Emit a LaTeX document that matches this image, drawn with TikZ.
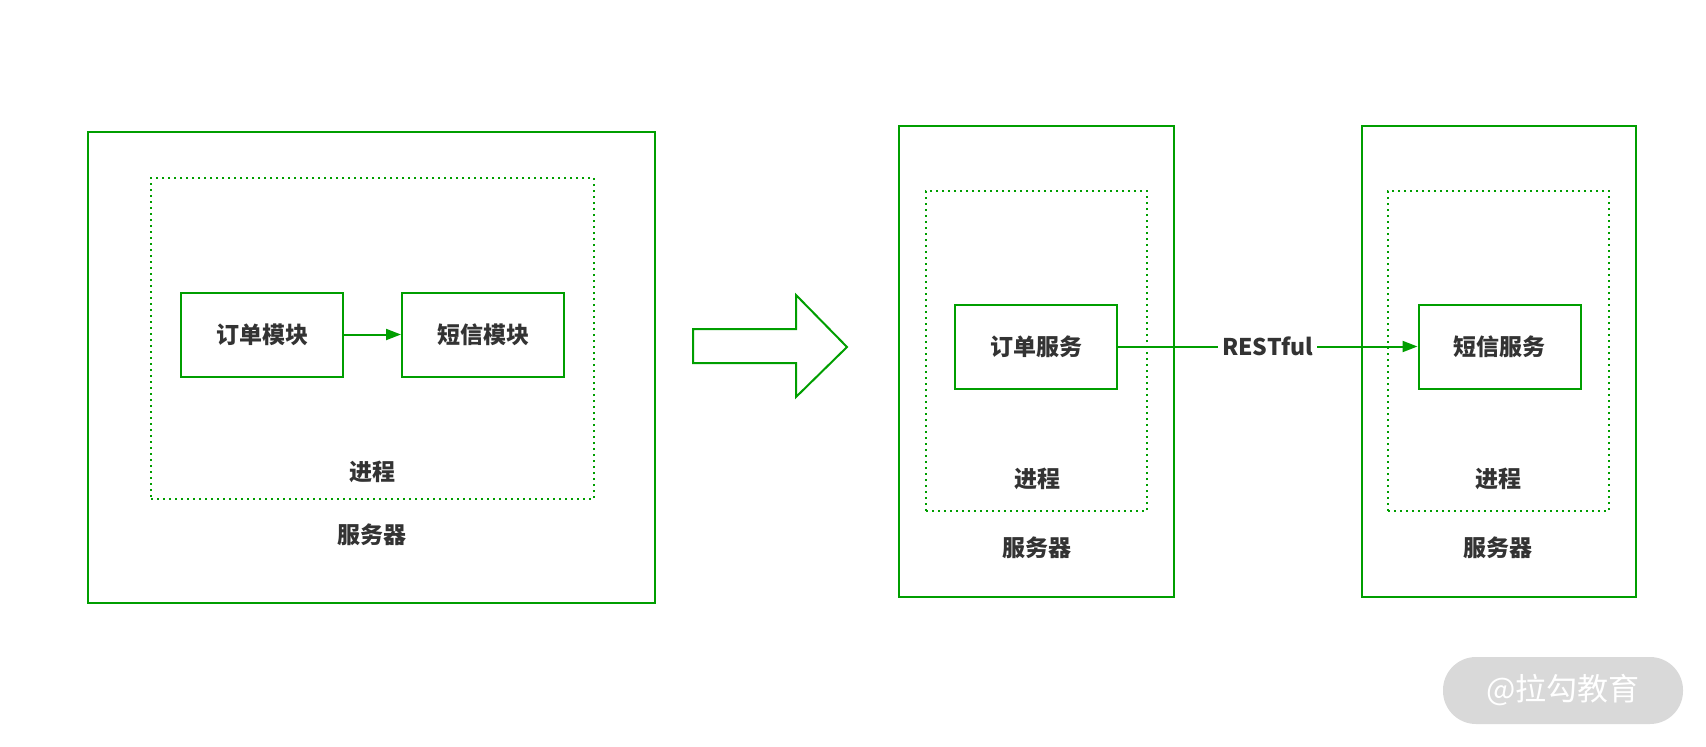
\documentclass[tikz,border=0pt]{standalone}
\usepackage{fontspec}
\setmainfont{Noto Sans CJK SC}
\usetikzlibrary{arrows.meta}
\definecolor{grn}{RGB}{0,158,0}
\definecolor{txt}{RGB}{51,51,51}
\definecolor{wm}{RGB}{217,217,217}
\tikzset{
  server/.style={draw=grn, line width=2pt, inner sep=0pt},
  proc/.style={draw=grn, line width=2pt, dash pattern=on 2pt off 4pt, inner sep=0pt},
  mod/.style={draw=grn, line width=2pt, inner sep=0pt, minimum width=162pt, minimum height=84pt, font=\fontsize{23}{27}\selectfont\bfseries, text=txt},
  lbl/.style={font=\fontsize{23}{27}\selectfont\bfseries, text=txt, inner sep=0pt},
  conn/.style={draw=grn, line width=2pt, -{Triangle[length=15pt,width=11pt]}},
}
\begin{document}
\begin{tikzpicture}[x=1pt,y=-1pt]
\useasboundingbox (0,0) rectangle (1706,747);
% left
\node[server, minimum width=567pt, minimum height=471pt] (srvL) at (371.5,367.5) {};
\node[proc, minimum width=443pt, minimum height=321pt] (procL) at (372.5,338.5) {};
\node[mod] (orderM) at (262,334.5) {订单模块};
\node[mod] (smsM) at (483,334.5) {短信模块};
\draw[conn] (orderM) -- (smsM);
\node[lbl] (procLlbl) at (372,472) {进程};
\node[lbl] (srvLlbl) at (372,535) {服务器};
% big arrow
\draw[grn, line width=2pt, line join=miter] (693,329) -- (796,329) -- (796,295) -- (847,347) -- (796,397) -- (796,363) -- (693,363) -- cycle;
% middle
\node[server, minimum width=275pt, minimum height=471pt] (srvM) at (1036.5,361.5) {};
\node[proc, minimum width=221pt, minimum height=320pt] (procM) at (1036.5,351) {};
\node[mod] (orderS) at (1036,346.5) {订单服务};
\node[lbl] (procMlbl) at (1037,479) {进程};
\node[lbl] (srvMlbl) at (1037,548) {服务器};
% right
\node[server, minimum width=274pt, minimum height=471pt] (srvR) at (1499,361.5) {};
\node[proc, minimum width=221pt, minimum height=320pt] (procR) at (1498.5,351) {};
\node[mod] (smsS) at (1499.5,346.5) {短信服务};
\node[lbl] (procRlbl) at (1498,479) {进程};
\node[lbl] (srvRlbl) at (1498,548) {服务器};
\draw[conn] (orderS) -- node[lbl, fill=white, inner xsep=4pt, inner ysep=2pt] (rest) {RESTful} (smsS);
% watermark
\node[fill=wm, rounded corners=33pt, minimum width=240pt, minimum height=67pt, inner sep=0pt, text=white, font=\fontsize{31}{35}\selectfont] (wmk) at (1563,690.5) {@拉勾教育};
\end{tikzpicture}
\end{document}
